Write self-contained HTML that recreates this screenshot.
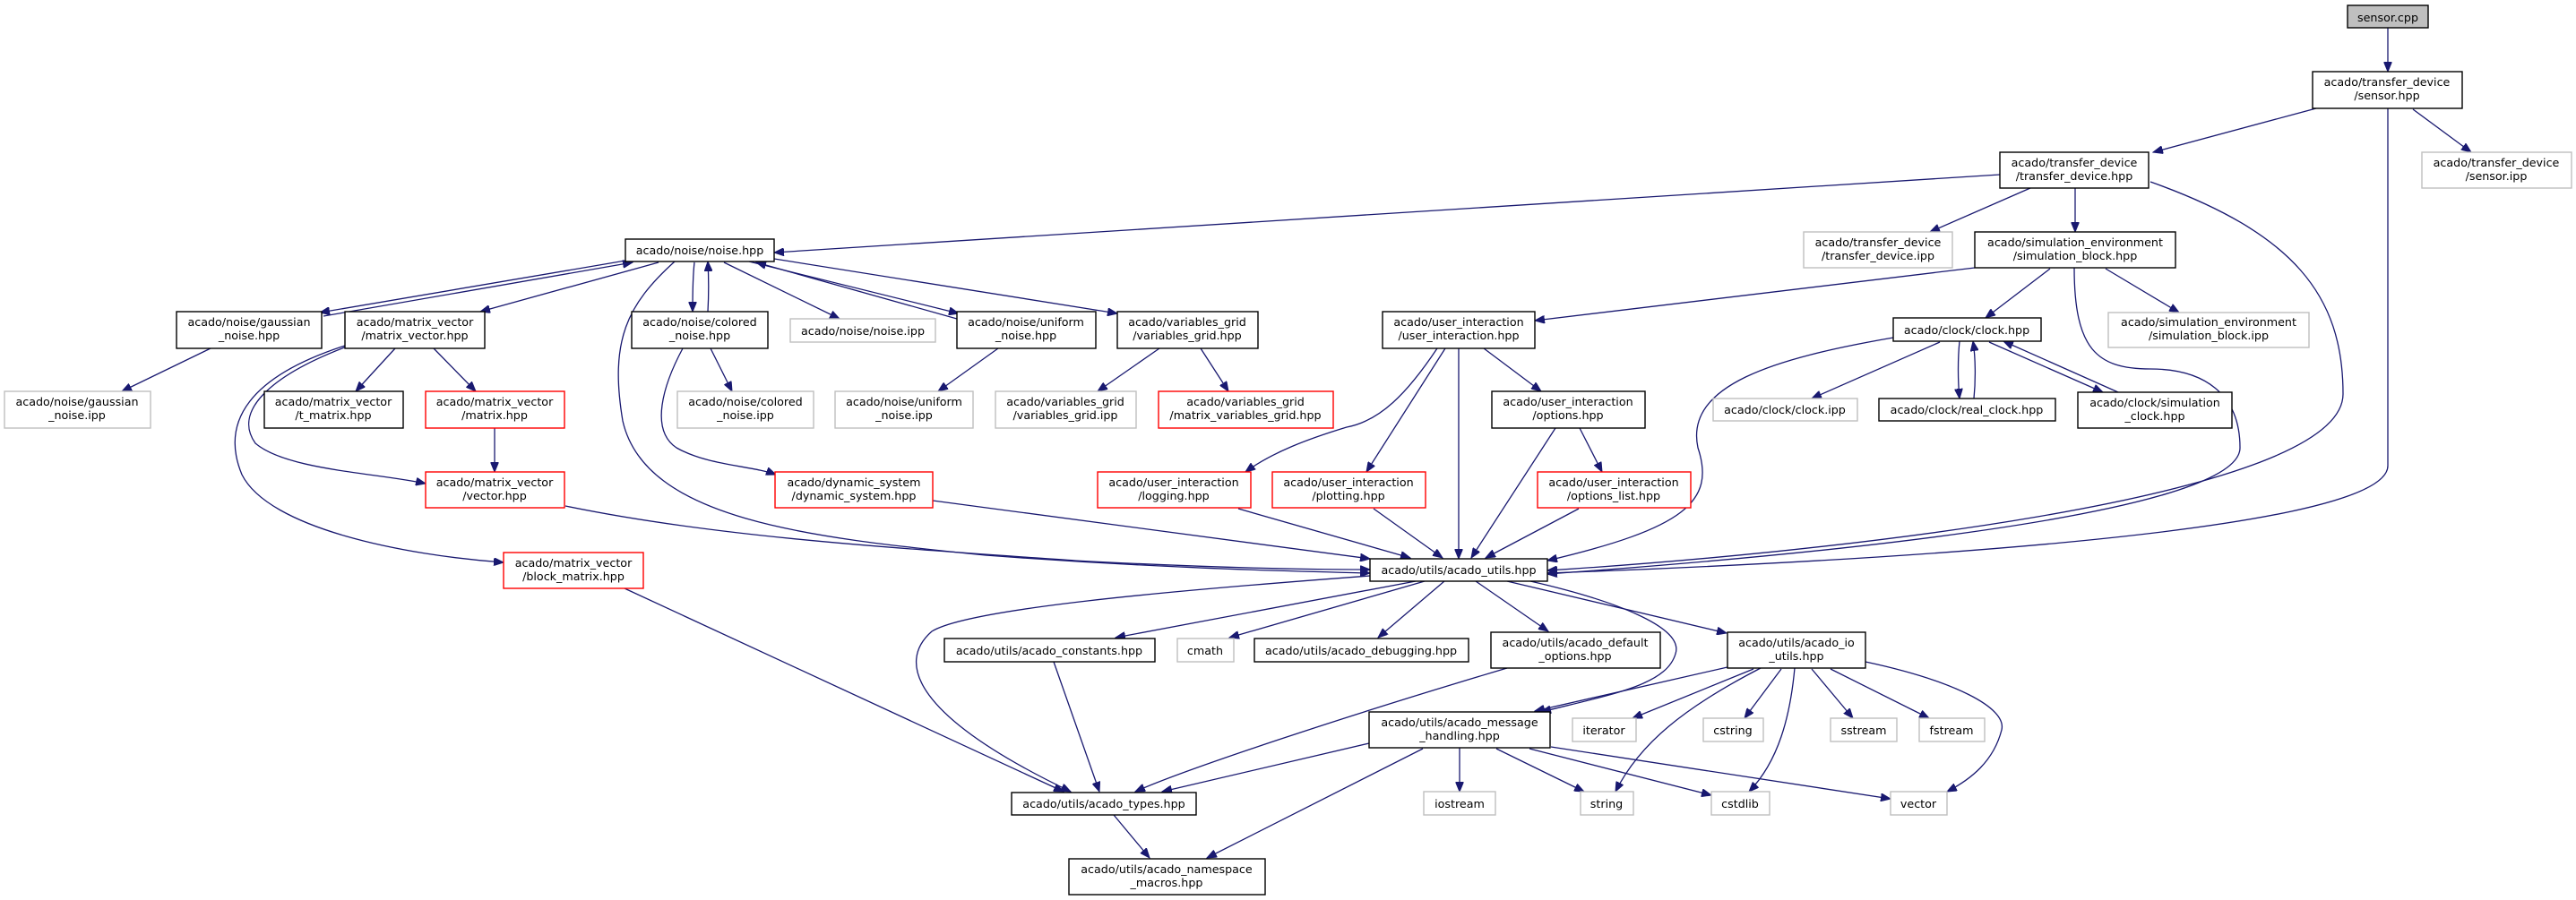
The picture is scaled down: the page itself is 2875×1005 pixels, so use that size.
<!DOCTYPE html>
<html><head><meta charset="utf-8"><style>
html,body{margin:0;padding:0;background:#fff;}
svg{display:block;}
text{font-family:"DejaVu Sans","Liberation Sans",sans-serif;font-size:12.7px;fill:#000;text-anchor:middle;}
.b{fill:#fff;stroke:#000;stroke-width:1.4;}
.g{fill:#fff;stroke:#bfbfbf;stroke-width:1.4;}
.r{fill:#fff;stroke:#ff0000;stroke-width:1.4;}
.root{fill:#bfbfbf;stroke:#000;stroke-width:1.4;}
path.e{fill:none;stroke:#191970;stroke-width:1.3;marker-end:url(#ah);}
</style></head><body>
<svg width="2875" height="1005" viewBox="0 0 2875 1005" xmlns="http://www.w3.org/2000/svg">
<defs><marker id="ah" markerUnits="userSpaceOnUse" markerWidth="12" markerHeight="9" refX="11" refY="4.5" orient="auto"><path d="M0,0 L11,4.5 L0,9 z" fill="#191970" stroke="#191970"/></marker></defs>

<!-- edges -->
<path class="e" d="M2665,31 L2665,80"/>
<path class="e" d="M2585,121 L2403,170"/>
<path class="e" d="M2693,122 L2758,170"/>
<path class="e" d="M2665,121 L2665,520 C2665,600 2000,630 1727,640"/>
<path class="e" d="M2232,195 L864,282"/>
<path class="e" d="M2266,210 L2154,259"/>
<path class="e" d="M2316,210 L2316,259"/>
<path class="e" d="M2400,203 C2560,260 2615,330 2615,440 C2615,560 2000,620 1727,637"/>
<path class="e" d="M2204,299 L1713,358"/>
<path class="e" d="M2288,300 L2216,355"/>
<path class="e" d="M2350,300 L2432,349"/>
<path class="e" d="M2315,299 C2315,390 2340,412 2400,412 C2460,412 2500,440 2500,500 C2500,580 1950,625 1727,641"/>
<path class="e" d="M2113,377 C1980,400 1880,430 1895,500 C1915,560 1880,590 1727,626"/>
<path class="e" d="M2165,382 L2022,445"/>
<path class="e" d="M2187,381 C2185,400 2185,425 2187,445"/>
<path class="e" d="M2203,445 C2205,425 2205,400 2202,381"/>
<path class="e" d="M2220,382 L2347,438"/>
<path class="e" d="M2364,438 L2236,381"/>
<path class="e" d="M704,290 L357,349"/>
<path class="e" d="M361,353 L706,293"/>
<path class="e" d="M735,293 L536,348"/>
<path class="e" d="M775,293 C773,310 773,330 773,348"/>
<path class="e" d="M790,348 C791,330 791,310 790,292"/>
<path class="e" d="M808,293 L937,356"/>
<path class="e" d="M836,292 L1070,350"/>
<path class="e" d="M1068,356 L844,293"/>
<path class="e" d="M864,289 L1247,350"/>
<path class="e" d="M753,292 C700,340 680,380 695,470 C720,580 900,600 1100,620 C1300,635 1450,638 1529,640"/>
<path class="e" d="M441,389 L397,437"/>
<path class="e" d="M484,389 L531,437"/>
<path class="e" d="M387,387 C300,420 260,460 285,495 C320,525 420,528 475,540"/>
<path class="e" d="M385,386 C280,420 245,470 270,530 C300,590 450,620 562,628"/>
<path class="e" d="M552,478 L552,527"/>
<path class="e" d="M235,389 L136,437"/>
<path class="e" d="M793,389 L817,437"/>
<path class="e" d="M762,389 C740,430 725,480 755,500 C790,520 840,520 866,530"/>
<path class="e" d="M1114,389 L1047,437"/>
<path class="e" d="M1294,389 L1225,437"/>
<path class="e" d="M1340,389 L1371,437"/>
<path class="e" d="M1604,389 C1570,440 1540,470 1503,477 C1460,490 1420,505 1390,527"/>
<path class="e" d="M1613,389 L1525,527"/>
<path class="e" d="M1628,389 L1628,624"/>
<path class="e" d="M1656,389 L1720,437"/>
<path class="e" d="M1736,478 L1642,623"/>
<path class="e" d="M1763,478 L1788,527"/>
<path class="e" d="M1382,568 L1574,623"/>
<path class="e" d="M1533,568 L1610,623"/>
<path class="e" d="M1762,568 L1658,623"/>
<path class="e" d="M1041,559 L1529,624"/>
<path class="e" d="M631,565 C800,600 1000,612 1200,626 C1350,634 1450,636 1529,636"/>
<path class="e" d="M1529,643 C1300,660 1080,680 1040,705 C1000,740 1020,800 1195,884"/>
<path class="e" d="M1580,649 L1245,712"/>
<path class="e" d="M1590,649 L1372,712"/>
<path class="e" d="M1612,649 L1538,712"/>
<path class="e" d="M1647,649 L1728,705"/>
<path class="e" d="M1682,649 L1927,707"/>
<path class="e" d="M1708,649 C1800,670 1880,700 1870,730 C1860,765 1800,775 1720,795"/>
<path class="e" d="M1176,739 L1227,884"/>
<path class="e" d="M1682,746 C1500,800 1320,860 1267,884"/>
<path class="e" d="M1528,830 L1297,884"/>
<path class="e" d="M1588,836 L1347,958"/>
<path class="e" d="M1243,910 L1283,958"/>
<path class="e" d="M1629,835 L1629,884"/>
<path class="e" d="M1670,836 L1768,884"/>
<path class="e" d="M1707,836 L1910,888"/>
<path class="e" d="M1731,834 L2110,892"/>
<path class="e" d="M1928,745 L1713,794"/>
<path class="e" d="M1957,747 L1822,802"/>
<path class="e" d="M1965,746 C1880,790 1830,830 1803,884"/>
<path class="e" d="M1988,747 L1947,802"/>
<path class="e" d="M2003,746 C1998,800 1985,850 1952,884"/>
<path class="e" d="M2022,747 L2068,802"/>
<path class="e" d="M2043,747 L2153,802"/>
<path class="e" d="M2082,739 C2180,760 2240,790 2234,815 C2225,850 2200,870 2173,884"/>
<path class="e" d="M697,657 L1187,884"/>

<!-- nodes -->
<rect class="root" x="2620" y="6" width="90" height="25"/><text x="2665" y="24">sensor.cpp</text>
<rect class="b" x="2581" y="80" width="167" height="41"/><text x="2664" y="96">acado/transfer_device</text><text x="2664" y="111">/sensor.hpp</text>
<rect class="g" x="2703" y="170" width="167" height="40"/><text x="2786" y="186">acado/transfer_device</text><text x="2786" y="201">/sensor.ipp</text>
<rect class="b" x="2232" y="170" width="166" height="40"/><text x="2315" y="186">acado/transfer_device</text><text x="2315" y="201">/transfer_device.hpp</text>
<rect class="g" x="2013" y="259" width="166" height="40"/><text x="2096" y="275">acado/transfer_device</text><text x="2096" y="290">/transfer_device.ipp</text>
<rect class="b" x="2204" y="259" width="224" height="40"/><text x="2316" y="275">acado/simulation_environment</text><text x="2316" y="290">/simulation_block.hpp</text>
<rect class="b" x="698" y="267" width="166" height="25"/><text x="781" y="284">acado/noise/noise.hpp</text>
<rect class="b" x="197" y="348" width="162" height="41"/><text x="278" y="364">acado/noise/gaussian</text><text x="278" y="379">_noise.hpp</text>
<rect class="b" x="385" y="348" width="156" height="41"/><text x="463" y="364">acado/matrix_vector</text><text x="463" y="379">/matrix_vector.hpp</text>
<rect class="b" x="705" y="348" width="152" height="41"/><text x="781" y="364">acado/noise/colored</text><text x="781" y="379">_noise.hpp</text>
<rect class="g" x="882" y="356" width="162" height="26"/><text x="963" y="374">acado/noise/noise.ipp</text>
<rect class="b" x="1068" y="348" width="155" height="41"/><text x="1145" y="364">acado/noise/uniform</text><text x="1145" y="379">_noise.hpp</text>
<rect class="b" x="1247" y="348" width="157" height="41"/><text x="1325" y="364">acado/variables_grid</text><text x="1325" y="379">/variables_grid.hpp</text>
<rect class="b" x="1543" y="348" width="170" height="41"/><text x="1628" y="364">acado/user_interaction</text><text x="1628" y="379">/user_interaction.hpp</text>
<rect class="b" x="2113" y="355" width="165" height="26"/><text x="2195" y="373">acado/clock/clock.hpp</text>
<rect class="g" x="2353" y="349" width="224" height="39"/><text x="2465" y="364">acado/simulation_environment</text><text x="2465" y="379">/simulation_block.ipp</text>
<rect class="g" x="5" y="437" width="163" height="41"/><text x="86" y="453">acado/noise/gaussian</text><text x="86" y="468">_noise.ipp</text>
<rect class="b" x="295" y="437" width="155" height="41"/><text x="372" y="453">acado/matrix_vector</text><text x="372" y="468">/t_matrix.hpp</text>
<rect class="r" x="475" y="437" width="155" height="41"/><text x="552" y="453">acado/matrix_vector</text><text x="552" y="468">/matrix.hpp</text>
<rect class="g" x="756" y="437" width="152" height="41"/><text x="832" y="453">acado/noise/colored</text><text x="832" y="468">_noise.ipp</text>
<rect class="g" x="932" y="437" width="154" height="41"/><text x="1009" y="453">acado/noise/uniform</text><text x="1009" y="468">_noise.ipp</text>
<rect class="g" x="1111" y="437" width="157" height="41"/><text x="1189" y="453">acado/variables_grid</text><text x="1189" y="468">/variables_grid.ipp</text>
<rect class="r" x="1293" y="437" width="195" height="41"/><text x="1390" y="453">acado/variables_grid</text><text x="1390" y="468">/matrix_variables_grid.hpp</text>
<rect class="b" x="1665" y="437" width="171" height="41"/><text x="1750" y="453">acado/user_interaction</text><text x="1750" y="468">/options.hpp</text>
<rect class="g" x="1912" y="445" width="161" height="25"/><text x="1992" y="462">acado/clock/clock.ipp</text>
<rect class="b" x="2097" y="445" width="197" height="25"/><text x="2195" y="462">acado/clock/real_clock.hpp</text>
<rect class="b" x="2319" y="438" width="172" height="40"/><text x="2405" y="454">acado/clock/simulation</text><text x="2405" y="469">_clock.hpp</text>
<rect class="r" x="475" y="527" width="155" height="40"/><text x="552" y="543">acado/matrix_vector</text><text x="552" y="558">/vector.hpp</text>
<rect class="r" x="865" y="527" width="176" height="40"/><text x="953" y="543">acado/dynamic_system</text><text x="953" y="558">/dynamic_system.hpp</text>
<rect class="r" x="1225" y="527" width="171" height="40"/><text x="1310" y="543">acado/user_interaction</text><text x="1310" y="558">/logging.hpp</text>
<rect class="r" x="1420" y="527" width="171" height="40"/><text x="1505" y="543">acado/user_interaction</text><text x="1505" y="558">/plotting.hpp</text>
<rect class="r" x="1716" y="527" width="171" height="40"/><text x="1801" y="543">acado/user_interaction</text><text x="1801" y="558">/options_list.hpp</text>
<rect class="b" x="1529" y="624" width="198" height="25"/><text x="1628" y="641">acado/utils/acado_utils.hpp</text>
<rect class="r" x="562" y="617" width="156" height="40"/><text x="640" y="633">acado/matrix_vector</text><text x="640" y="648">/block_matrix.hpp</text>
<rect class="b" x="1054" y="713" width="235" height="26"/><text x="1171" y="731">acado/utils/acado_constants.hpp</text>
<rect class="g" x="1314" y="713" width="63" height="26"/><text x="1345" y="731">cmath</text>
<rect class="b" x="1400" y="713" width="239" height="26"/><text x="1519" y="731">acado/utils/acado_debugging.hpp</text>
<rect class="b" x="1664" y="706" width="189" height="40"/><text x="1758" y="722">acado/utils/acado_default</text><text x="1758" y="737">_options.hpp</text>
<rect class="b" x="1928" y="706" width="154" height="40"/><text x="2005" y="722">acado/utils/acado_io</text><text x="2005" y="737">_utils.hpp</text>
<rect class="b" x="1528" y="795" width="202" height="40"/><text x="1629" y="811">acado/utils/acado_message</text><text x="1629" y="826">_handling.hpp</text>
<rect class="g" x="1755" y="802" width="71" height="26"/><text x="1790" y="820">iterator</text>
<rect class="g" x="1901" y="802" width="67" height="26"/><text x="1934" y="820">cstring</text>
<rect class="g" x="2043" y="802" width="74" height="26"/><text x="2080" y="820">sstream</text>
<rect class="g" x="2142" y="802" width="73" height="26"/><text x="2178" y="820">fstream</text>
<rect class="b" x="1129" y="885" width="206" height="25"/><text x="1232" y="902">acado/utils/acado_types.hpp</text>
<rect class="g" x="1589" y="884" width="80" height="26"/><text x="1629" y="902">iostream</text>
<rect class="g" x="1764" y="884" width="59" height="26"/><text x="1793" y="902">string</text>
<rect class="g" x="1910" y="884" width="65" height="26"/><text x="1942" y="902">cstdlib</text>
<rect class="g" x="2110" y="884" width="63" height="26"/><text x="2141" y="902">vector</text>
<rect class="b" x="1193" y="959" width="219" height="40"/><text x="1302" y="975">acado/utils/acado_namespace</text><text x="1302" y="990">_macros.hpp</text>
</svg>
</body></html>
